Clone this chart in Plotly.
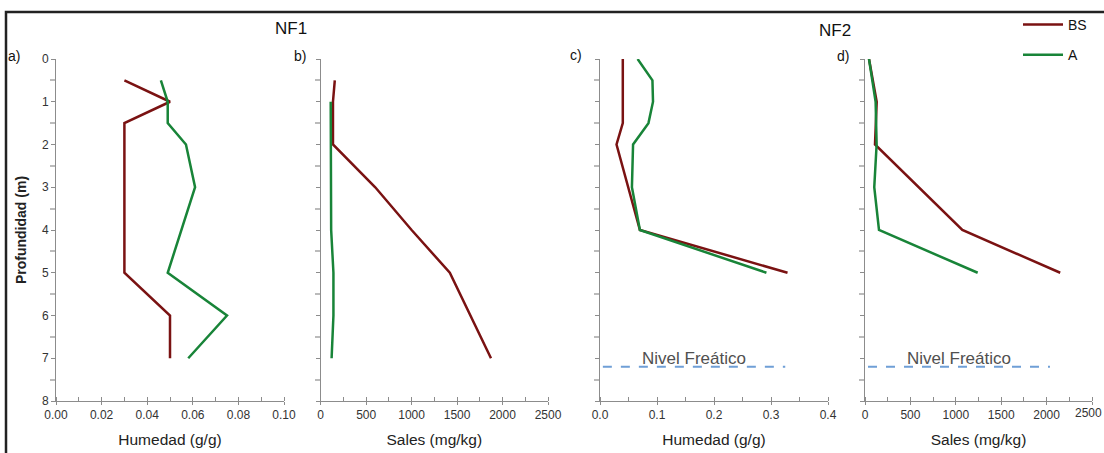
import plotly.graph_objects as go

# ---------------- data ----------------
depth_nf1 = [0.5, 1, 1.5, 2, 3, 4, 5, 6, 7]
hum_nf1_bs = [0.03, 0.05, 0.03, 0.03, 0.03, 0.03, 0.03, 0.05, 0.05]
hum_nf1_a = [0.046, 0.049, 0.049, 0.057, 0.061, 0.055, 0.049, 0.075, 0.058]

depth_sal_nf1_bs = [0.5, 1, 1.5, 2, 3, 4, 5, 6, 7]
sal_nf1_bs = [155, 135, 135, 135, 600, 1000, 1420, 1650, 1873]
depth_sal_nf1_a = [1, 1.5, 2, 3, 4, 5, 6, 7]
sal_nf1_a = [110, 110, 110, 110, 115, 140, 140, 120]

depth_nf2 = [0, 0.5, 1, 1.5, 2, 3, 4, 5]
hum_nf2_bs = [0.04, 0.04, 0.04, 0.04, 0.029, 0.05, 0.07, 0.329]
hum_nf2_a = [0.066, 0.092, 0.093, 0.085, 0.058, 0.056, 0.07, 0.292]

depth_sal_nf2 = [0, 1, 2, 3, 4, 5]
sal_nf2_bs = [44, 129, 110, 590, 1072, 2150]
sal_nf2_a = [44, 117, 128, 102, 154, 1241]

nivel_depth = 7.2
nivel_hum_x = [0.005, 0.325]
nivel_sal_x = [33, 2037]
nivel_label = "Nivel Freático"
nivel_label_depth = 7.0

series_names = ["BS", "A"]
series_colors = ["#7a1212", "#188438"]

panel_labels = ["a)", "b)", "c)", "d)"]
group_titles = ["NF1", "NF2"]
x_titles = ["Humedad (g/g)", "Sales (mg/kg)", "Humedad (g/g)", "Sales (mg/kg)"]
y_title = "Profundidad (m)"

W, H = 1104, 453
FONT = "Arial, Liberation Sans, sans-serif"

fig = go.Figure()

panels = [
    (hum_nf1_bs, depth_nf1, hum_nf1_a, depth_nf1),
    (sal_nf1_bs, depth_sal_nf1_bs, sal_nf1_a, depth_sal_nf1_a),
    (hum_nf2_bs, depth_nf2, hum_nf2_a, depth_nf2),
    (sal_nf2_bs, depth_sal_nf2, sal_nf2_a, depth_sal_nf2),
]

for i, (xb, yb, xa, ya) in enumerate(panels):
    ax = "" if i == 0 else str(i + 1)
    fig.add_trace(go.Scatter(x=xb, y=yb, mode="lines", name=series_names[0],
                             line=dict(color=series_colors[0], width=2.5),
                             xaxis="x" + ax, yaxis="y" + ax,
                             showlegend=(i == 0), legendgroup="bs"))
    fig.add_trace(go.Scatter(x=xa, y=ya, mode="lines", name=series_names[1],
                             line=dict(color=series_colors[1], width=2.5),
                             xaxis="x" + ax, yaxis="y" + ax,
                             showlegend=(i == 0), legendgroup="a"))

# water table lines
for i, xs in [(2, nivel_hum_x), (3, nivel_sal_x)]:
    ax = str(i + 1)
    fig.add_trace(go.Scatter(x=xs, y=[nivel_depth, nivel_depth], mode="lines",
                             line=dict(color="#6f9fd6", width=2, dash="dash"),
                             xaxis="x" + ax, yaxis="y" + ax, showlegend=False,
                             hoverinfo="skip"))
    fig.add_annotation(x=sum(xs) / 2, y=nivel_label_depth, xref="x" + ax, yref="y" + ax,
                       text=nivel_label, showarrow=False,
                       font=dict(family=FONT, size=17, color="#505050"))

# axis domains (px -> paper)
x_px = [(56, 284), (320.7, 548), (600, 828), (865, 1092)]
y_dom = [(H - 401) / H, (H - 59) / H]
x_ranges = [[0, 0.1], [0, 2500], [0, 0.4], [0, 2500]]
x_dticks = [0.02, 500, 0.1, 500]
x_formats = [".2f", "d", ".1f", "d"]

axis_col = "#8c8c8c"
tick_font = dict(family=FONT, size=12, color="#333333")

layout = dict(
    width=W, height=H,
    margin=dict(l=0, r=0, t=0, b=0, pad=0, autoexpand=False),
    paper_bgcolor="white", plot_bgcolor="white",
    font=dict(family=FONT, color="#222222"),
    legend=dict(x=1018 / W, y=1 - 9 / H, xanchor="left", yanchor="top",
                font=dict(family=FONT, size=14, color="#111111"),
                tracegroupgap=9, bgcolor="rgba(0,0,0,0)", itemwidth=40),
)

for i in range(4):
    ax = "" if i == 0 else str(i + 1)
    x0, x1 = x_px[i]
    layout["xaxis" + ax] = dict(
        domain=[x0 / W, x1 / W], range=x_ranges[i], anchor="y" + ax,
        dtick=x_dticks[i], tick0=0, tickformat=x_formats[i],
        showline=True, linecolor=axis_col, linewidth=1, showgrid=False, zeroline=False,
        ticks="outside", ticklen=3, tickcolor=axis_col, tickfont=tick_font,
        minor=dict(dtick=x_dticks[i] / 2, ticks="inside", ticklen=4, tickcolor=axis_col),
        title=dict(text=x_titles[i], font=dict(family=FONT, size=15.5, color="#222222"),
                   standoff=12),
        automargin=False, fixedrange=True,
    )
    layout["yaxis" + ax] = dict(
        domain=list(y_dom), range=[8, 0], anchor="x" + ax,
        dtick=1, tick0=0,
        showline=True, linecolor=axis_col, linewidth=1, showgrid=False, zeroline=False,
        ticks="outside", ticklen=4, tickcolor=axis_col, tickfont=tick_font,
        showticklabels=(i == 0),
        minor=dict(dtick=0.5, ticks="outside", ticklen=5, tickcolor="#bbbbbb", tickwidth=2),
        automargin=False, fixedrange=True,
    )
    if i == 0:
        layout["yaxis"]["title"] = dict(text="<b>" + y_title + "</b>",
                                        font=dict(family=FONT, size=14, color="#222222"),
                                        standoff=12)
fig.update_layout(**layout)

# last tick label of panel d sits at the page edge: keep it fully inside the page
fig.add_annotation(x=1, xref="paper", y=1 - 413 / H, yref="paper",
                   text=f"{x_ranges[3][1]:d}", showarrow=False,
                   xanchor="right", yanchor="middle",
                   font=dict(family=FONT, size=12, color="#333333"))

# panel labels
label_px = [(14, 56), (300, 56), (576, 55), (843, 56)]
for lab, (px, py) in zip(panel_labels, label_px):
    fig.add_annotation(x=px / W, y=1 - py / H, xref="paper", yref="paper", text=lab,
                       showarrow=False, xanchor="center", yanchor="middle",
                       font=dict(family=FONT, size=14, color="#111111"))

for t, (px, py) in zip(group_titles, [(291, 29), (835, 30)]):
    fig.add_annotation(x=px / W, y=1 - py / H, xref="paper", yref="paper", text=t,
                       showarrow=False, xanchor="center", yanchor="middle",
                       font=dict(family=FONT, size=17, color="#111111"))

# outer frame (left and top edges visible)
fig.add_shape(type="rect", xref="paper", yref="paper",
              x0=6 / W, x1=1.05, y0=-0.05, y1=1 - 12 / H,
              line=dict(color="#222222", width=2.5), layer="above")

fig.write_html("out.html", config={"displayModeBar": False},
               post_script="document.body.style.margin='0';document.body.style.overflow='hidden';")
